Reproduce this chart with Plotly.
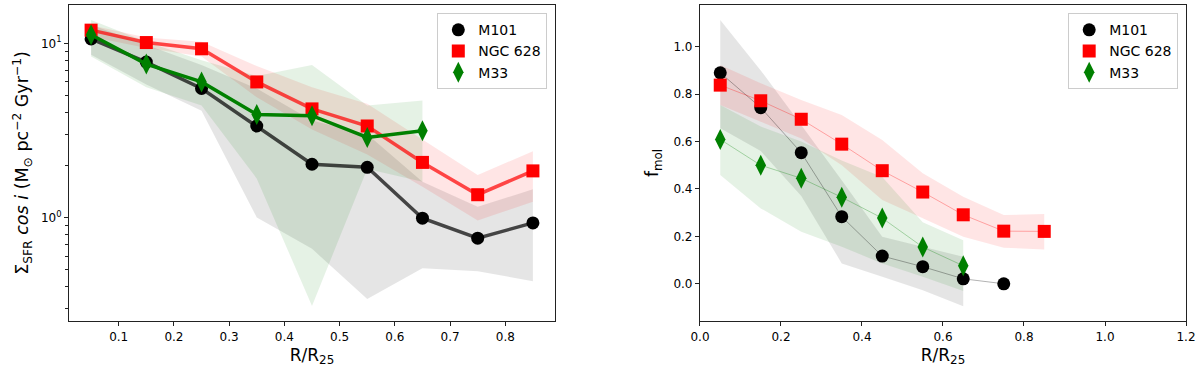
import plotly.graph_objects as go

# radial bins (R/R25)
r_bins = [0.05, 0.15, 0.25, 0.35, 0.45, 0.55, 0.65, 0.75, 0.85]
galaxies = ["M101", "NGC 628", "M33"]

# left panel: SFR surface density
sfr_m101 = [10.6, 7.8, 5.5, 3.35, 2.02, 1.94, 0.99, 0.76, 0.93]
sfr_m101_lo = [8.6, 5.8, 4.1, 1.0, 0.66, 0.34, 0.51, 0.49, 0.43]
sfr_m101_hi = [12.8, 9.8, 7.5, 5.5, 3.6, 3.0, 1.6, 1.15, 1.45]
sfr_n628 = [11.9, 10.1, 9.3, 6.0, 4.2, 3.35, 2.07, 1.35, 1.85]
sfr_n628_lo = [10.9, 9.4, 8.4, 4.9, 3.2, 2.3, 1.5, 0.96, 1.23]
sfr_n628_hi = [12.7, 10.8, 10.2, 7.4, 5.6, 4.5, 2.8, 1.75, 2.4]
sfr_m33 = [11.2, 7.6, 6.0, 3.9, 3.84, 2.88, 3.15]
sfr_m33_lo = [8.4, 5.6, 4.4, 1.67, 0.31, 1.9, 1.6]
sfr_m33_hi = [13.6, 10.2, 8.0, 6.5, 7.5, 4.4, 4.7]

# right panel: molecular fraction
fmol_m101 = [0.89, 0.743, 0.553, 0.283, 0.117, 0.072, 0.021, 0.0]
fmol_m101_lo = [0.656, 0.56, 0.37, 0.086, 0.03, -0.027, -0.095]
fmol_m101_hi = [1.113, 0.90, 0.67, 0.437, 0.198, 0.156, 0.114]
fmol_n628 = [0.838, 0.772, 0.694, 0.589, 0.477, 0.387, 0.291, 0.222, 0.221]
fmol_n628_lo = [0.754, 0.684, 0.613, 0.50, 0.353, 0.276, 0.198, 0.152, 0.145]
fmol_n628_hi = [0.923, 0.846, 0.775, 0.712, 0.606, 0.466, 0.367, 0.29, 0.294]
fmol_m33 = [0.609, 0.50, 0.445, 0.365, 0.277, 0.155, 0.076]
fmol_m33_lo = [0.459, 0.318, 0.22, 0.156, 0.086, 0.03, -0.03]
fmol_m33_hi = [0.754, 0.663, 0.60, 0.52, 0.45, 0.26, 0.184]

colors = {"M101": "black", "NGC 628": "red", "M33": "green"}
fills = {"M101": "rgba(0,0,0,0.1)", "NGC 628": "rgba(255,0,0,0.1)", "M33": "rgba(0,128,0,0.1)"}
symbols = {"M101": "circle", "NGC 628": "square", "M33": "diamond-tall"}
sizes = {"M101": 13, "NGC 628": 13, "M33": 15}

FONT = "DejaVu Sans"
fig = go.Figure()


def band(x, lo, hi, name, xa, ya):
    n = len(lo)
    xs = list(x[:n]) + list(x[:n])[::-1]
    ys = list(hi) + list(lo)[::-1]
    fig.add_trace(go.Scatter(x=xs, y=ys, fill="toself", fillcolor=fills[name],
                             line=dict(width=0), mode="lines", hoverinfo="skip",
                             showlegend=False, xaxis=xa, yaxis=ya))


left = [
    ("M101", sfr_m101, sfr_m101_lo, sfr_m101_hi, "rgba(0,0,0,0.7)"),
    ("NGC 628", sfr_n628, sfr_n628_lo, sfr_n628_hi, "rgba(255,0,0,0.7)"),
    ("M33", sfr_m33, sfr_m33_lo, sfr_m33_hi, "green"),
]
right = [
    ("M101", fmol_m101, fmol_m101_lo, fmol_m101_hi, "rgba(0,0,0,0.3)"),
    ("NGC 628", fmol_n628, fmol_n628_lo, fmol_n628_hi, "rgba(255,0,0,0.3)"),
    ("M33", fmol_m33, fmol_m33_lo, fmol_m33_hi, "rgba(0,128,0,0.3)"),
]

for name, y, lo, hi, lc in left:
    band(r_bins, lo, hi, name, "x", "y")
for name, y, lo, hi, lc in left:
    x = r_bins[:len(y)]
    fig.add_trace(go.Scatter(x=x, y=y, mode="lines", line=dict(color=lc, width=3.5),
                             showlegend=False, xaxis="x", yaxis="y"))
    fig.add_trace(go.Scatter(x=x, y=y, mode="markers", name=name,
                             marker=dict(color=colors[name], symbol=symbols[name], size=sizes[name]),
                             legend="legend", xaxis="x", yaxis="y"))

for name, y, lo, hi, lc in right:
    band(r_bins, lo, hi, name, "x2", "y2")
for name, y, lo, hi, lc in right:
    x = r_bins[:len(y)]
    fig.add_trace(go.Scatter(x=x, y=y, mode="lines", line=dict(color=lc, width=1),
                             showlegend=False, xaxis="x2", yaxis="y2"))
    fig.add_trace(go.Scatter(x=x, y=y, mode="markers", name=name,
                             marker=dict(color=colors[name], symbol=symbols[name], size=sizes[name]),
                             legend="legend2", xaxis="x2", yaxis="y2"))

axis_style = dict(showline=True, mirror=True, linecolor="#222", linewidth=1.2,
                  ticks="outside", ticklen=4, tickcolor="#222", showgrid=False, zeroline=False,
                  tickfont=dict(family=FONT, size=12, color="black"))

fig.update_layout(
    width=1200, height=373,
    margin=dict(l=69, r=14, t=5, b=52),
    plot_bgcolor="white", paper_bgcolor="white",
    font=dict(family=FONT, color="black"),
    xaxis=dict(domain=[0, 0.4351], range=[0.01, 0.89], tickvals=[0.1, 0.2, 0.3, 0.4, 0.5, 0.6, 0.7, 0.8],
               title=dict(text="R/R<sub>25</sub>", font=dict(size=17), standoff=6), **axis_style),
    yaxis=dict(type="log", range=[-0.595, 1.22], tickvals=[1, 10],
               ticktext=["10<sup>0</sup>", "10<sup>1</sup>"],
               minor=dict(tickvals=[0.3, 0.4, 0.5, 0.6, 0.7, 0.8, 0.9, 2, 3, 4, 5, 6, 7, 8, 9],
                          ticks="outside", ticklen=2.5, tickcolor="#222"),
               title=dict(text="Σ<sub>SFR</sub> <i>cos i</i> (M<sub>⊙</sub> pc<sup>−2</sup> Gyr<sup>−1</sup>)",
                          font=dict(size=17.5), standoff=7), **axis_style),
    xaxis2=dict(domain=[0.5649, 1], range=[0, 1.2], dtick=0.2, tick0=0, tickformat=".1f",
                title=dict(text="R/R<sub>25</sub>", font=dict(size=17), standoff=6), **axis_style),
    yaxis2=dict(range=[-0.157, 1.176], tickvals=[0, 0.2, 0.4, 0.6, 0.8, 1.0], tickformat=".1f",
                title=dict(text="f<sub>mol</sub>", font=dict(size=17), standoff=10), anchor="x2",
                **axis_style),
    legend=dict(x=0.4282, xanchor="right", y=0.974, yanchor="top", bgcolor="white",
                bordercolor="#cccccc", borderwidth=1, font=dict(family=FONT, size=14),
                itemwidth=30, tracegroupgap=0),
    legend2=dict(x=0.993, xanchor="right", y=0.974, yanchor="top", bgcolor="white",
                 bordercolor="#cccccc", borderwidth=1, font=dict(family=FONT, size=14),
                 itemwidth=30, tracegroupgap=0),
)

fig.write_html("out.html", config={"displayModeBar": False},
               post_script="document.body.style.margin='0px';")
